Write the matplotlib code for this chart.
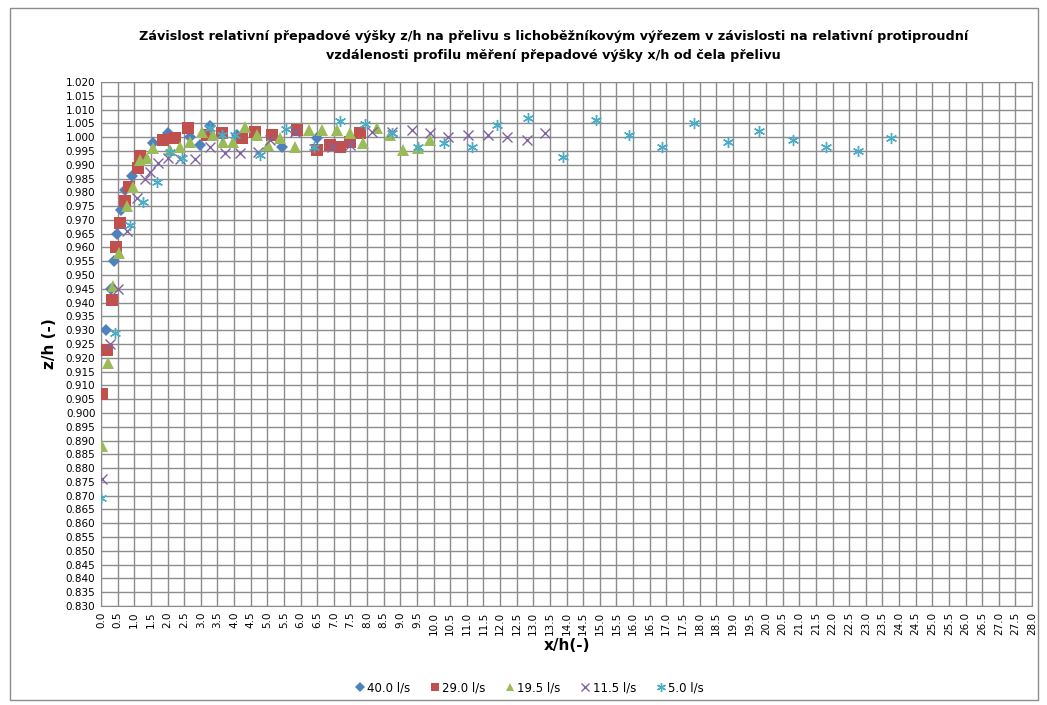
"""Relative overflow height z/h vs. relative upstream distance x/h."""

import numpy as np
import matplotlib
matplotlib.use("Agg")
import matplotlib.pyplot as plt
from matplotlib.patches import Rectangle

# 40.0 l/s
x_40 = [0.15, 0.30, 0.40, 0.49, 0.60, 0.72, 0.92, 1.56, 2.00, 2.68, 2.98,
        3.28, 4.08, 5.43, 6.49]
y_40 = [0.930, 0.945, 0.955, 0.965, 0.9735, 0.981, 0.986, 0.998, 1.0015,
        1.000, 0.997, 1.004, 1.0008, 0.9966, 0.9996]

# 29.0 l/s
x_29 = [0.03, 0.19, 0.34, 0.44, 0.57, 0.71, 0.85, 1.12, 1.17, 1.87, 2.23,
        2.63, 3.18, 3.63, 4.23, 4.63, 5.13, 5.88, 6.49, 6.89, 7.19, 7.49, 7.79]
y_29 = [0.907, 0.923, 0.941, 0.960, 0.969, 0.977, 0.982, 0.9887, 0.993,
        0.999, 0.9996, 1.0032, 1.0008, 1.0014, 0.9996, 1.002, 1.0008, 1.0026,
        0.9953, 0.9972, 0.9966, 0.9984, 1.0014]

# 19.5 l/s
x_19 = [0.03, 0.22, 0.35, 0.55, 0.77, 0.97, 1.17, 1.37, 1.57, 2.08, 2.38,
        2.68, 3.03, 3.38, 3.68, 3.98, 4.33, 4.68, 5.03, 5.38, 5.83, 6.24,
        6.64, 7.09, 7.49, 7.89, 8.29, 8.69, 9.09, 9.54, 9.89]
y_19 = [0.888, 0.918, 0.946, 0.958, 0.975, 0.982, 0.9917, 0.9923, 0.996,
        0.9953, 0.9966, 0.9984, 1.002, 1.0008, 0.9984, 0.9984, 1.0038, 1.0008,
        0.9972, 0.9996, 0.9966, 1.0026, 1.0026, 1.0026, 1.0014, 0.998, 1.0032,
        1.0008, 0.9953, 0.996, 0.999]

# 11.5 l/s
x_11 = [0.03, 0.27, 0.52, 0.77, 1.07, 1.32, 1.47, 1.72, 2.02, 2.38, 2.83,
        3.28, 3.73, 4.18, 4.73, 5.08, 5.83, 6.94, 7.49, 8.14, 8.74, 9.34,
        9.89, 10.45, 11.05, 11.65, 12.20, 12.80, 13.35]
y_11 = [0.876, 0.925, 0.945, 0.966, 0.978, 0.985, 0.9875, 0.9905, 0.9923,
        0.992, 0.992, 0.9966, 0.9941, 0.9941, 0.9947, 0.999, 1.002, 0.9966,
        0.9972, 1.002, 1.002, 1.0026, 1.0014, 1.0002, 1.0008, 1.0008, 1.0002,
        0.999, 1.0014]

# 5.0 l/s
x_5 = [0.00, 0.42, 0.86, 1.25, 1.67, 2.08, 2.43, 3.28, 3.63, 4.03, 4.78,
       5.55, 6.42, 7.19, 7.94, 8.74, 9.54, 10.30, 11.15, 11.90, 12.85, 13.90,
       14.89, 15.89, 16.86, 17.84, 18.85, 19.80, 20.80, 21.80, 22.78, 23.76]
y_5 = [0.869, 0.929, 0.968, 0.9766, 0.9839, 0.9947, 0.9923, 1.0032, 1.0008,
       1.0008, 0.9935, 1.003, 0.9966, 1.006, 1.0047, 1.0014, 0.9966, 0.9978,
       0.9966, 1.0044, 1.0068, 0.9929, 1.0062, 1.0008, 0.9966, 1.0052, 0.9984,
       1.0024, 0.999, 0.9966, 0.9951, 0.9996]

series = [
    (x_40, y_40, "40.0 l/s", "D", "#4F81BD", 6),
    (x_29, y_29, "29.0 l/s", "s", "#C0504D", 8),
    (x_19, y_19, "19.5 l/s", "^", "#9BBB59", 8),
    (x_11, y_11, "11.5 l/s", "x", "#8064A2", 7),
    (x_5, y_5, "5.0 l/s", (6, 2, 0), "#4BACC6", 8),
]


def main():
    fig = plt.figure(figsize=(10.47, 7.05), dpi=100)
    ax = fig.add_axes([0.0965, 0.1404, 0.8892, 0.7433])

    for xs, ys, label, marker, color, size in series:
        line_marker = marker == "x" or isinstance(marker, tuple)
        ax.plot(xs, ys, linestyle="none", marker=marker, color=color,
                markersize=size, markeredgewidth=1.0 if line_marker else 0,
                label=label, zorder=3)

    ax.set_xlim(0, 28)
    ax.set_ylim(0.830, 1.020)
    xt = np.arange(0, 28.01, 0.5)
    yt = np.arange(0.830, 1.0201, 0.005)
    ax.set_xticks(xt)
    ax.set_yticks(yt)
    ax.set_xticklabels([f"{v:.1f}" for v in xt], rotation=90, fontsize=7.5)
    ax.set_yticklabels([f"{v:.3f}" for v in yt], fontsize=7.5)
    ax.tick_params(length=0, pad=4)
    ax.grid(True, color="#8c8c8c", linewidth=1.0)
    ax.set_axisbelow(True)
    for s in ax.spines.values():
        s.set_color("#8c8c8c")

    ax.set_xlabel("x/h(-)", fontsize=11, fontweight="bold", labelpad=2)
    ax.set_ylabel("z/h (-)", fontsize=11, fontweight="bold", labelpad=6)

    fig.text(0.529, 0.935,
             "Závislost relativní přepadové výšky z/h na přelivu s "
             "lichoběžníkovým výřezem v závislosti na relativní protiproudní\n"
             "vzdálenosti profilu měření přepadové výšky x/h od čela přelivu",
             ha="center", va="center", fontsize=9.2, fontweight="bold",
             linespacing=1.6)

    fig.legend(loc="center", bbox_to_anchor=(0.505, 0.024), ncol=5,
               frameon=False, fontsize=8.5, handletextpad=0.1,
               columnspacing=1.6, handlelength=1.0, markerscale=0.8)

    fig.patches.append(Rectangle((10 / 1047, 5 / 705), 1028 / 1047,
                                 692 / 705, transform=fig.transFigure,
                                 fill=False, edgecolor="#8c8c8c",
                                 linewidth=1.0))

    fig.savefig("out.png", dpi=100)
    plt.close(fig)


if __name__ == "__main__":
    main()
